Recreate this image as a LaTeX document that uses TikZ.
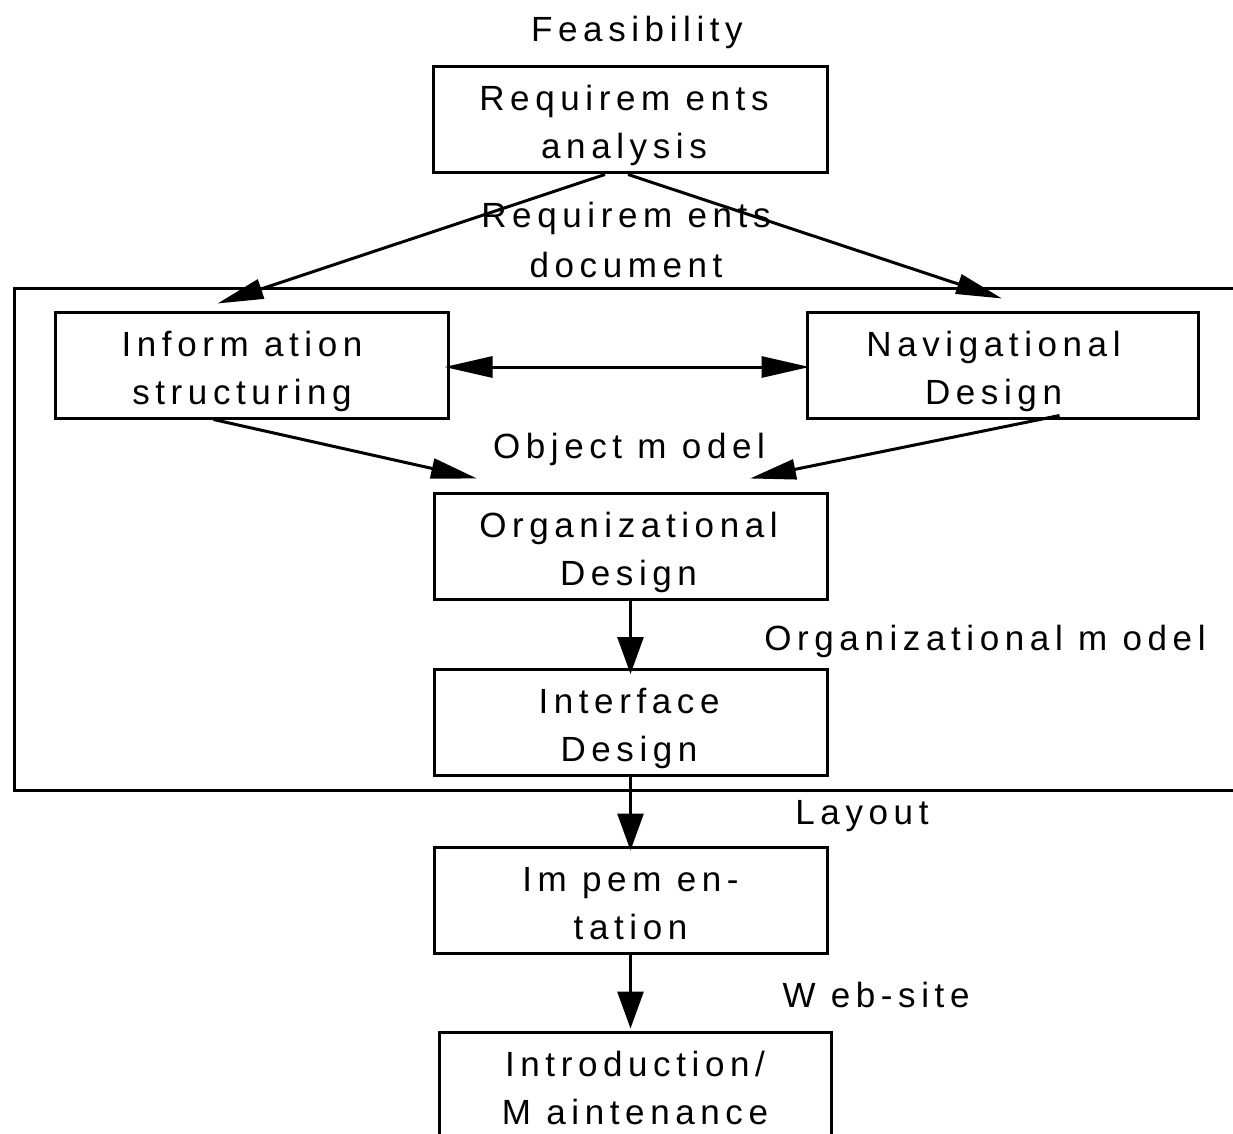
\documentclass[tikz,border=0pt]{standalone}
\usepackage{fontspec}
\setmainfont{Liberation Sans}[LetterSpace=16]
\usetikzlibrary{arrows.meta}

% two centred lines inside a stage box, with the baselines set low in the box;
% the optional argument moves both lines to the left by half its value
\newcommand\boxtext[3][0pt]{\rule{0pt}{39pt}\hspace*{-#1}#2\\\hspace*{-#1}#3\rule[-9pt]{0pt}{9pt}}

\begin{document}
\begin{tikzpicture}[x=1pt,y=-1pt,
  every node/.style={font=\fontsize{35}{48}\selectfont},
  stage/.style={draw, line width=3pt, minimum width=393pt, minimum height=106pt,
                inner sep=0pt, align=center},
  lbl/.style={inner sep=0pt, align=center},
  flow/.style={line width=3pt, -{Triangle[length=37pt,width=26pt]}},
  slant/.style={line width=3pt, -{Triangle[length=46pt,width=20pt]}},
  both/.style={line width=3pt, {Triangle[length=48pt,width=21pt]}-{Triangle[length=48pt,width=21pt]}},
]
\useasboundingbox (0,0) rectangle (1233,1134);
\clip (0,0) rectangle (1233,1134);

% stages of the process
\node[lbl, anchor=base] (feas) at (637,42) {Feasibility};
\node[stage, minimum width=394pt] (ra) at (630,120) {\boxtext[12pt]{Requirem ents}{analysis}};
\node[lbl, font=\fontsize{35}{50}\selectfont] (rdoc) at (626,242)
  {\rule{0pt}{30pt}Requirem ents\\document\rule[-10pt]{0pt}{10pt}};

% design phase frame (open on the right)
\draw[line width=3pt] (1250,288) -- (14,288) -- (14,790) -- (1250,790);

\node[stage] (info) at (251.5,365) {\boxtext[19pt]{Inform ation}{structuring}};
\node[stage, minimum width=391pt] (nav) at (1002.5,365) {\boxtext[18pt]{Navigational}{Design}};
\node[lbl, anchor=base] (om) at (629,458) {Object m odel};
\node[stage] (org) at (630.5,546) {\boxtext[4pt]{Organizational}{Design}};
\node[lbl, anchor=base] (orgm) at (985,650) {Organizational m odel};
\node[stage] (iface) at (630.5,722.5) {\boxtext[3pt]{Interface}{Design}};
\node[lbl, anchor=base] (lay) at (862,824) {Layout};
\node[stage] (impl) at (630.5,900) {\boxtext{Im pem en-}{tation}};
\node[lbl, anchor=base] (web) at (876,1007) {W eb-site};
\node[stage, minimum width=392pt] (intro) at (635,1085) {\boxtext{Introduction/}{M aintenance}};

% connectors
\draw[slant] ([xshift=-25pt]ra.south) -- ([xshift=-34pt,yshift=7pt]info.north);
\draw[slant] ([xshift=-2pt]ra.south) -- ([xshift=-0.5pt,yshift=12pt]nav.north);
\draw[both] ([xshift=-5pt,yshift=-2pt]info.east) -- ([xshift=4pt,yshift=-2pt]nav.west);
\draw[slant] ([xshift=-38pt]info.south) -- ([xshift=-153.5pt,yshift=13pt]org.north);
\draw[slant] ([xshift=57pt,yshift=4pt]nav.south) -- ([xshift=119.5pt,yshift=13pt]org.north);
\draw[flow] (org.south) -- ([yshift=-6pt]iface.north);
\draw[flow] (iface.south) -- ([yshift=-5pt]impl.north);
\draw[flow] (impl.south) -- ([xshift=-4.5pt,yshift=2pt]intro.north);
\end{tikzpicture}
\end{document}
